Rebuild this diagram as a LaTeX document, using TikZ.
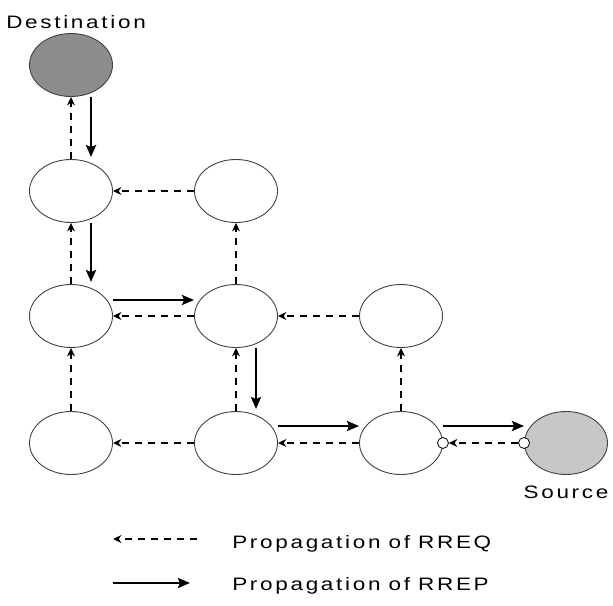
\documentclass[tikz,border=0pt]{standalone}
\usepackage{fontspec}
\setmainfont{Liberation Sans}[LetterSpace=12, WordSpace=0.9]
\usetikzlibrary{positioning,shapes.geometric,arrows.meta}
\begin{document}
\begin{tikzpicture}[x=1pt, y=-1pt, font=\fontsize{18}{21}\selectfont, line join=round,
 station/.style={ellipse, draw=black!75, line width=0.9pt, minimum width=83pt, minimum height=63pt, inner sep=0pt},
 rreq/.style={line width=1.2pt, dash pattern=on 7pt off 6pt, -{Stealth[length=8.5pt,width=8pt]}},
 rrep/.style={line width=2.8pt, -{Stealth[length=12pt,width=10pt,inset=2pt]}},
 port/.style={circle, draw, fill=white, line width=0.8pt, minimum size=11pt, inner sep=0pt},
 lbl/.style={inner sep=0pt, xscale=1.25, transform shape}]
 \useasboundingbox (0,0) rectangle (613,605);
 % stations
 \node[station, fill=black!45] (dst) at (71,65) {};
 \node[station] (a1) at (71,191) {};
 \node[station] (a2) at (236,191) {};
 \node[station] (b1) at (71,316) {};
 \node[station] (b2) at (236,316) {};
 \node[station] (b3) at (401,316) {};
 \node[station] (c1) at (71,443) {};
 \node[station] (c2) at (236,443) {};
 \node[station] (c3) at (401,443) {};
 \node[station, fill=black!22] (src) at (566,443) {};
 \node[lbl, anchor=base west] (dstlbl) at (6,28) {Destination};
 \node[lbl, below=10.5pt of src] (srclbl) {Source};
 % RREQ
 \draw[rreq] (c1) -- (b1);
 \draw[rreq] (b1) -- (a1);
 \draw[rreq] (a1) -- (dst);
 \draw[rreq] (c2) -- (b2);
 \draw[rreq] (b2) -- (a2);
 \draw[rreq] (c3) -- (b3);
 \draw[rreq] (a2) -- (a1);
 \draw[rreq] (b3) -- (b2);
 \draw[rreq] (b2) -- (b1);
 \draw[rreq] (c3) -- (c2);
 \draw[rreq] (c2) -- (c1);
 \node[port] (p1) at (c3.east) {};
 \node[port] (p2) at (src.west) {};
 \draw[rreq] (p2) -- (p1);
 % RREP
 \draw[rrep, shorten >=2pt] ([xshift=20pt]dst.south) -- ([xshift=20pt]a1.north);
 \draw[rrep, shorten >=2pt] ([xshift=20pt]a1.south) -- ([xshift=20pt]b1.north);
 \draw[rrep] ([yshift=16pt]b1.east) -- ([yshift=16pt]b2.west);
 \draw[rrep, shorten >=2pt] ([xshift=20pt]b2.south) -- ([xshift=20pt]c2.north);
 \draw[rrep] ([yshift=17pt]c2.east) -- ([yshift=17pt]c3.west);
 \draw[rrep] ([yshift=17pt]c3.east) -- ([yshift=17pt]src.west);
 % legend
 \coordinate (reqA) at (197,539);
 \coordinate (reqB) at (113,539);
 \draw[rreq] (reqA) -- (reqB);
 \coordinate (repA) at (113,583);
 \coordinate (repB) at (190,583);
 \draw[rrep] (repA) -- (repB);
 \node[lbl, anchor=base west] (reqtxt) at (232,548) {Propagation of RREQ};
 \node[lbl, anchor=base west] (reptxt) at (232,590) {Propagation of RREP};
\end{tikzpicture}
\end{document}
